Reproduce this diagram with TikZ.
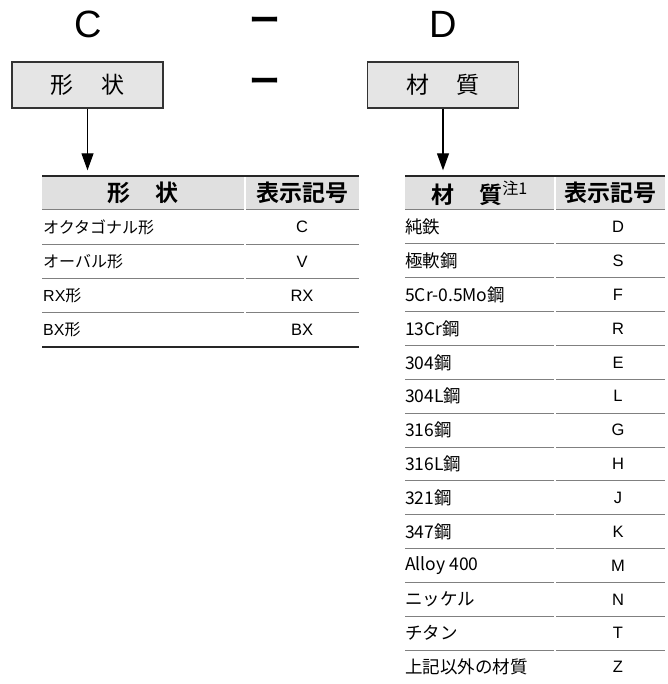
\documentclass[tikz,border=0pt]{standalone}
\usepackage{fontspec}
\setmainfont{Liberation Sans}
\newfontfamily\jp{Noto Sans CJK JP}[BoldFont={Noto Sans CJK JP Bold}]
\usetikzlibrary{arrows.meta,positioning,calc}

\begin{document}
\begin{tikzpicture}[
  x=1pt, y=-1pt,
  box/.style={draw=black!80, line width=1.1pt, fill=black!10, minimum width=151pt, minimum height=46pt, inner sep=0pt, font=\jp\fontsize{23}{23}\selectfont},
  big/.style={inner sep=0pt, font=\fontsize{38}{38}\selectfont},
  bar/.style={inner sep=0pt, font=\jp\bfseries\fontsize{31}{31}\selectfont},
  head/.style={fill=black!12, minimum height=33pt, inner sep=0pt, font=\jp\bfseries\fontsize{23}{23}\selectfont},
  cell/.style={anchor=west, inner sep=0pt, font=\fontsize{16}{16}\selectfont},
  symb/.style={inner sep=0pt, font=\fontsize{16.5}{16.5}\selectfont},
  rule/.style={black!50, line width=1pt},
  edge/.style={black!85, line width=1.4pt},
  flow/.style={-{Triangle[width=12pt,length=17pt]}, line width=1.2pt, shorten >=6pt}
]
\useasboundingbox (0,0) rectangle (667,684);

% code letters
\node[big] (lc) at (88,24) {C};
\node[bar] (ld1) at (265,24) {ー};
\node[big] (ld) at (443,24) {D};

% boxes
\node[box] (shapebox) at (87.5,85) {形\hspace{1.2em}状};
\node[bar] (ld2) at (265,85) {ー};
\node[box] (matbox) at (443,85) {材\hspace{1.2em}質};

% left table
\node[head, minimum width=202pt] (shapehd) at (143,193) {形\hspace{1.1em}状};
\node[head, minimum width=113pt] (symhd1) at (302.5,193) {表示記号};
\draw[edge] (42,176) -- (359,176);
\foreach \txt/\sym [count=\i] in {{\jp オクタゴナル形}/C, {\jp オーバル形}/V, {RX\jp 形}/RX, {BX\jp 形}/BX} {
  \node[cell] (sl\i) at (43,{210+34.25*(\i-0.5)}) {\txt};
  \node[symb] (sc\i) at (302,{210+34.25*(\i-0.5)}) {\sym};
}
\foreach \i in {0,...,3} {
  \draw[rule] (42,{210+34.25*\i}) -- (244,{210+34.25*\i});
  \draw[rule] (246,{210+34.25*\i}) -- (359,{210+34.25*\i});
}
\draw[edge] (42,347) -- (359,347);

% right table
\node[head, minimum width=149pt] (mathd) at (479.5,193) {材\hspace{1.1em}質\textsuperscript{\mdseries 注1}};
\node[head, minimum width=109pt] (symhd2) at (610.5,193) {表示記号};
\draw[edge] (405,176) -- (665,176);
\foreach \txt/\sym [count=\i] in {純鉄/D, 極軟鋼/S, 5Cr-0.5Mo鋼/F, 13Cr鋼/R, 304鋼/E, 304L鋼/L, 316鋼/G, 316L鋼/H, 321鋼/J, 347鋼/K, Alloy 400/M, ニッケル/N, チタン/T, 上記以外の材質/Z} {
  \node[cell, font=\jp\fontsize{17.5}{17.5}\selectfont] (ml\i) at (405,{210+33.86*(\i-0.5)}) {\txt};
  \node[symb] (mc\i) at (618,{210+33.86*(\i-0.5)}) {\sym};
}
\foreach \i in {0,...,13} {
  \draw[rule] (405,{210+33.86*\i}) -- (554,{210+33.86*\i});
  \draw[rule] (556,{210+33.86*\i}) -- (665,{210+33.86*\i});
}

% arrows
\draw[flow] (shapebox) -- (shapebox |- shapehd.north);
\draw[flow] (matbox) -- (matbox |- mathd.north);
\end{tikzpicture}
\end{document}
